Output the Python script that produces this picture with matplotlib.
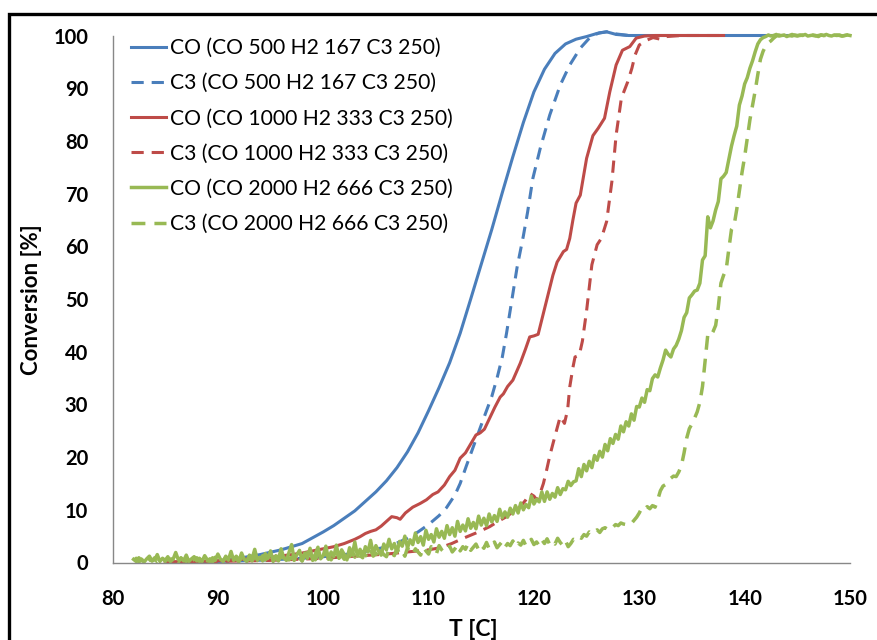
import numpy as np
import matplotlib
matplotlib.use("Agg")
import matplotlib.pyplot as plt
from matplotlib.lines import Line2D

# ---------------- data ----------------
labels = [
    "CO (CO 500 H2 167 C3 250)",
    "C3 (CO 500 H2 167 C3 250)",
    "CO (CO 1000 H2 333 C3 250)",
    "C3 (CO 1000 H2 333 C3 250)",
    "CO (CO 2000 H2 666 C3 250)",
    "C3 (CO 2000 H2 666 C3 250)",
]

x_ticks = [80, 90, 100, 110, 120, 130, 140, 150]
y_ticks = [0, 10, 20, 30, 40, 50, 60, 70, 80, 90, 100]

# CO 500 - CO conversion
t_co_500 = [88, 90, 92, 94, 96, 98, 100, 101, 102, 103, 104, 105, 106, 107, 108, 109, 110,
            111, 112, 113, 114, 115, 116, 117, 118, 119, 120, 121, 122, 123, 124, 125, 126,
            126.9, 127.8, 129, 132, 136, 140, 145]
c_co_500 = [0.1, 0.3, 0.8, 1.5, 2.4, 3.6, 5.8, 7.0, 8.4, 9.8, 11.6, 13.4, 15.5, 18.0, 21.0,
            24.6, 28.8, 33.2, 37.9, 43.5, 50.0, 56.6, 63.2, 70.2, 77.0, 83.5, 89.3, 93.6,
            96.6, 98.4, 99.3, 99.8, 100.4, 100.7, 100.2, 100.0, 100.0, 100.0, 100.0, 100.0]

# CO 500 - C3 conversion
t_c3_500 = [88, 92, 95, 98, 100, 102, 104, 105, 106, 107, 108, 109, 110, 111, 111.7, 112.5,
            113, 113.6, 114.4, 115.2, 116, 116.5, 117, 117.4, 118, 118.4, 119, 119.4, 119.9,
            120.6, 121.5, 122.5, 123.4, 124.4, 125.4, 126.2, 126.9, 127.8, 129]
c_c3_500 = [0.1, 0.3, 0.5, 0.8, 1.1, 1.5, 2.1, 2.5, 3.0, 3.7, 4.6, 5.8, 7.2, 8.9, 10.4, 12.8,
            15.0, 18.4, 22.8, 27.2, 31.5, 35.0, 39.0, 43.5, 51.0, 56.0, 62.0, 66.5, 72.9,
            78.6, 84.9, 90.6, 94.4, 97.6, 99.8, 100.5, 100.7, 100.3, 100.0]

# CO 1000 - CO conversion
t_co_1000 = [85, 88, 91, 93, 95, 97, 98, 99, 100, 101, 102, 103, 103.5, 104, 104.5, 105,
             105.5, 106, 106.5, 107, 107.3, 107.8, 108.5, 109.2, 109.8, 110.4, 110.9, 111.5,
             112, 112.5, 113, 113.5, 114, 114.5, 114.9, 115.3, 115.8, 116.3, 116.8, 117.1,
             117.5, 118, 118.7, 119.2, 119.6, 120, 120.4, 120.8, 121.3, 121.8, 122.2, 122.5,
             122.8, 123.1, 123.4, 123.7, 124, 124.4, 125, 125.6, 126.1, 126.7, 127.2, 127.8,
             128.4, 129.1, 129.7, 130.5, 131.5, 134, 136, 138]
c_co_1000 = [0.1, 0.2, 0.4, 0.7, 1.0, 1.5, 1.8, 2.2, 2.6, 3.0, 3.6, 4.4, 4.9, 5.5, 5.9, 6.2,
             6.9, 7.8, 8.7, 8.5, 8.2, 9.4, 10.5, 11.2, 11.9, 12.9, 13.4, 14.7, 16.3, 17.5,
             19.8, 20.8, 22.5, 24.2, 24.6, 25.3, 27.4, 29.5, 31.4, 32.0, 33.4, 34.6, 37.8,
             40.5, 42.8, 43.0, 43.3, 46.5, 50.5, 54.5, 57.0, 58.0, 59.0, 59.4, 61.5, 65.0,
             68.2, 69.7, 76.7, 81.0, 82.4, 84.3, 89.3, 94.4, 97.2, 97.9, 99.5, 99.9, 100.0,
             100.0, 100.0, 100.0]

# CO 1000 - C3 conversion
t_c3_1000 = [85, 90, 95, 100, 103, 106, 108, 110, 111.1, 112.2, 113.3, 114.5, 115.8, 116.6,
             117.4, 118, 118.7, 119.2, 119.6, 120, 120.3, 120.6, 120.9, 121.2, 121.5, 121.8,
             122.2, 122.5, 122.9, 123.2, 123.4, 123.7, 123.9, 124.3, 124.6, 125, 125.5, 126,
             126.4, 126.9, 127.4, 127.8, 128.3, 128.9, 129.3, 129.6, 130, 130.7, 131.3, 132,
             132.6, 134, 136, 138]
c_c3_1000 = [0.1, 0.2, 0.4, 0.8, 1.2, 1.6, 2.0, 2.4, 2.8, 3.6, 4.6, 5.6, 6.8, 7.8, 8.7, 9.6,
             10.6, 11.8, 13.1, 12.6, 11.8, 13.2, 15.0, 17.5, 20.2, 22.5, 25.5, 27.7, 26.4,
             29.0, 33.3, 37.0, 39.0, 39.3, 42.0, 47.8, 56.5, 60.3, 61.5, 64.7, 72.3, 81.1,
             88.1, 91.2, 93.8, 96.3, 98.2, 99.1, 99.6, 99.3, 99.8, 100.0, 100.0, 100.0]

# CO 2000 - CO conversion, logged every 0.25 C from 82 to 150 C
c_co_2000 = [
    0.6, 0.2, 0.9, 0.4, 0.1, 0.7, 1.2, 0.3, 0.5, 1.5, 0.2, 0.8,
    0.4, 1.1, 0.2, 0.6, 1.9, 0.5, 0.9, 0.3, 1.4, 0.2, 0.7, 1.1,
    0.3, 0.8, 0.2, 1.3, 0.5, 0.1, 0.9, 0.4, 1.6, 0.6, 0.3, 1.0,
    0.5, 2.1, 0.4, 1.2, 0.3, 1.8, 0.6, 0.2, 1.4, 0.7, 2.5, 0.4,
    1.0, 0.3, 1.7, 0.8, 2.2, 0.2, 1.3, 0.6, 2.6, 0.9, 0.4, 1.9,
    3.4, 0.5, 1.5, 2.3, 0.3, 1.8, 0.8, 2.7, 0.4, 1.6, 2.9, 0.7,
    1.3, 3.1, 0.6, 2.0, 1.1, 3.3, 0.8, 2.4, 1.5, 0.5, 2.8, 1.4,
    3.9, 1.2, 2.5, 0.9, 3.0, 2.0, 4.2, 1.6, 3.2, 2.2, 1.4, 3.5,
    2.4, 4.4, 2.6, 3.6, 1.9, 4.0, 3.1, 5.0, 2.8, 4.3, 3.4, 5.6,
    3.8, 4.9, 3.3, 6.1, 4.4, 5.3, 3.9, 6.4, 4.8, 5.9, 4.6, 7.0,
    5.3, 6.6, 5.0, 7.8, 5.9, 7.1, 6.0, 8.3, 6.5, 7.6, 6.4, 8.8,
    7.1, 8.4, 7.0, 9.2, 7.7, 8.9, 7.8, 10.1, 8.5, 9.6, 8.6, 10.3,
    9.2, 10.8, 9.4, 11.3, 10.0, 11.0, 10.4, 12.6, 11.1, 12.0, 11.5, 13.4,
    11.6, 13.4, 12.0, 13.1, 12.4, 14.2, 12.9, 14.0, 13.8, 15.4, 14.6, 15.3,
    15.5, 17.8, 16.3, 18.6, 17.4, 19.2, 18.0, 20.3, 19.4, 21.1, 20.0, 22.4,
    21.2, 23.5, 22.6, 24.3, 23.4, 25.9, 24.8, 26.7, 25.9, 28.2, 27.0, 29.6,
    29.5, 31.2, 30.4, 32.8, 32.6, 34.9, 35.6, 35.2, 36.9, 38.4, 40.3, 39.5,
    39.0, 40.5, 41.2, 42.4, 44.0, 46.5, 47.4, 50.2, 50.8, 51.5, 51.7, 53.0,
    57.4, 58.2, 65.6, 63.5, 64.8, 66.9, 68.5, 72.8, 73.3, 74.0, 76.5, 79.0,
    81.0, 82.8, 86.8, 88.5, 90.8, 92.0, 93.8, 95.2, 96.9, 98.4, 99.2, 99.6,
    99.8, 100.1, 99.9, 100.0, 100.2, 99.9, 100.0, 100.1, 99.8, 100.0, 100.2, 100.0,
    99.9, 100.1, 100.0, 100.2, 99.9, 100.0, 100.1, 100.0, 99.8, 100.1, 100.0, 100.2,
    100.0, 99.9, 100.1, 100.0, 100.1, 99.9, 100.0, 100.1, 100.0,
]

# CO 2000 - C3 conversion, logged every 0.25 C from 82 to 150 C
c_c3_2000 = [
    0.3, 0.8, 0.1, 0.5, 1.1, 0.2, 0.6, 0.3, 0.9, 0.1, 0.4, 1.0,
    0.2, 0.7, 0.3, 1.2, 0.4, 0.1, 0.8, 0.5, 0.2, 1.1, 0.3, 0.6,
    0.9, 0.2, 0.5, 1.3, 0.3, 0.7, 0.1, 1.0, 0.4, 0.8, 0.2, 1.2,
    0.5, 0.3, 1.4, 0.6, 0.2, 0.9, 1.5, 0.4, 0.7, 0.3, 1.1, 0.6,
    0.2, 1.3, 0.5, 0.9, 1.6, 0.4, 0.8, 0.3, 1.2, 0.7, 1.7, 0.5,
    1.0, 0.4, 1.5, 0.8, 0.3, 1.4, 1.9, 0.6, 1.1, 0.5, 1.6, 0.9,
    0.7, 1.8, 1.2, 0.5, 1.5, 2.0, 0.9, 1.3, 0.6, 1.7, 1.1, 2.2,
    1.0, 1.6, 0.8, 2.1, 1.4, 1.0, 2.4, 1.2, 1.8, 0.9, 2.2, 1.5,
    1.1, 2.5, 1.7, 1.3, 2.7, 1.6, 2.1, 1.2, 2.8, 1.9, 1.5, 2.6,
    2.0, 1.4, 2.9, 2.2, 1.6, 3.0, 2.1, 1.7, 3.2, 2.4, 1.9, 2.7,
    3.1, 2.0, 2.6, 3.4, 2.2, 3.0, 2.5, 3.6, 2.3, 2.9, 3.5, 2.4,
    3.3, 2.7, 3.8, 2.6, 3.1, 3.9, 2.8, 3.4, 4.0, 2.9, 3.6, 3.2,
    4.1, 3.0, 3.7, 3.3, 4.2, 3.1, 3.8, 4.4, 3.4, 3.9, 3.2, 4.3,
    3.6, 4.5, 3.4, 4.0, 3.5, 4.6, 3.8, 3.2, 4.1, 3.0, 3.6, 4.4,
    4.2, 4.9, 4.6, 5.3, 5.0, 5.8, 5.4, 5.9, 6.2, 5.7, 6.4, 6.6,
    6.3, 6.9, 6.7, 7.2, 7.0, 7.5, 7.3, 7.2, 7.6, 7.4, 8.0, 8.6,
    9.4, 10.4, 10.1, 10.6, 10.2, 10.8, 10.5, 11.9, 13.6, 14.5, 14.8, 15.6,
    16.0, 16.4, 16.3, 17.2, 18.4, 20.8, 23.6, 25.4, 26.3, 27.4, 28.6, 30.4,
    33.4, 38.4, 43.2, 42.9, 43.8, 45.0, 48.5, 53.0, 54.5, 55.6, 59.5, 63.2,
    64.0, 67.0, 70.5, 74.0, 77.0, 80.5, 84.0, 86.8, 89.5, 92.6, 95.5, 97.0,
    98.0, 98.6, 99.0, 99.5, 99.9, 100.1, 99.9, 100.0, 100.1, 100.0, 99.9, 100.1,
    100.0, 100.0, 100.1, 99.9, 100.0, 100.1, 100.0, 99.9, 100.0, 100.1, 100.0, 100.0,
    99.9, 100.1, 100.0, 100.1, 100.0, 99.9, 100.0, 100.1, 100.0,
]
t_2000 = np.linspace(82, 150, len(c_co_2000))

# ---------------- styling ----------------
BLUE = "#4A7EBB"
RED = "#BE4B48"
GREEN = "#98B954"
LW = 2.2
DASH = (0, (4, 2.6))

plt.rcParams["font.family"] = ["Lato", "DejaVu Sans"]

W, H = 877, 640
fig = plt.figure(figsize=(W / 100, H / 100), dpi=100)
x0, x1 = 112.5, 850.0
y0, y1 = 562.5, 35.5
ax = fig.add_axes([x0 / W, 1 - y0 / H, (x1 - x0) / W, (y0 - y1) / H])

series = [
    (t_co_500, c_co_500, BLUE, "-", LW),
    (t_c3_500, c_c3_500, BLUE, DASH, LW),
    (t_co_1000, c_co_1000, RED, "-", LW),
    (t_c3_1000, c_c3_1000, RED, DASH, LW),
    (t_2000, c_co_2000, GREEN, "-", LW + 0.3),
    (t_2000, c_c3_2000, GREEN, DASH, LW + 0.3),
]
handles = []
for (t, c, col, ls, lw), lab in zip(series, labels):
    ln, = ax.plot(t, c, color=col, lw=lw, linestyle=ls, label=lab,
                  solid_joinstyle="round", dash_capstyle="butt", clip_on=False)
    handles.append(ln)

ax.set_xlim(80, 150)
ax.set_ylim(0, 100)
ax.set_xticks(x_ticks)
ax.set_yticks(y_ticks)
ax.set_xticklabels([str(v) for v in x_ticks], fontweight="bold", fontsize=14.5)
ax.set_yticklabels([str(v) for v in y_ticks], fontweight="bold", fontsize=14.5)
ax.tick_params(axis="both", length=0)
ax.tick_params(axis="y", pad=17.5)
ax.tick_params(axis="x", pad=19)
for s in ("top", "right"):
    ax.spines[s].set_visible(False)
for s in ("left", "bottom"):
    ax.spines[s].set_color("#888888")
    ax.spines[s].set_linewidth(1.0)

fig.text(32 / W, 1 - 300 / H, "Conversion [%]", rotation=90, ha="center", va="center",
         fontweight="bold", fontsize=16)
fig.text(473 / W, 1 - 630 / H, "T [C]", ha="center", va="center",
         fontweight="bold", fontsize=16.5)

leg = ax.legend(handles=handles, loc="upper left",
                bbox_to_anchor=(131 / W, 1 - 38 / H), bbox_transform=fig.transFigure,
                frameon=False, fontsize=15.2, handlelength=1.65, handletextpad=0.2,
                labelspacing=0.72, borderpad=0, borderaxespad=0)

# chart-area border
fig.add_artist(Line2D([9 / W, 9 / W, 1.01], [-0.01, 1 - 13.8 / H, 1 - 13.8 / H],
                      transform=fig.transFigure, color="black", lw=2.4,
                      solid_joinstyle="miter"))

fig.savefig("out.png", dpi=100)
